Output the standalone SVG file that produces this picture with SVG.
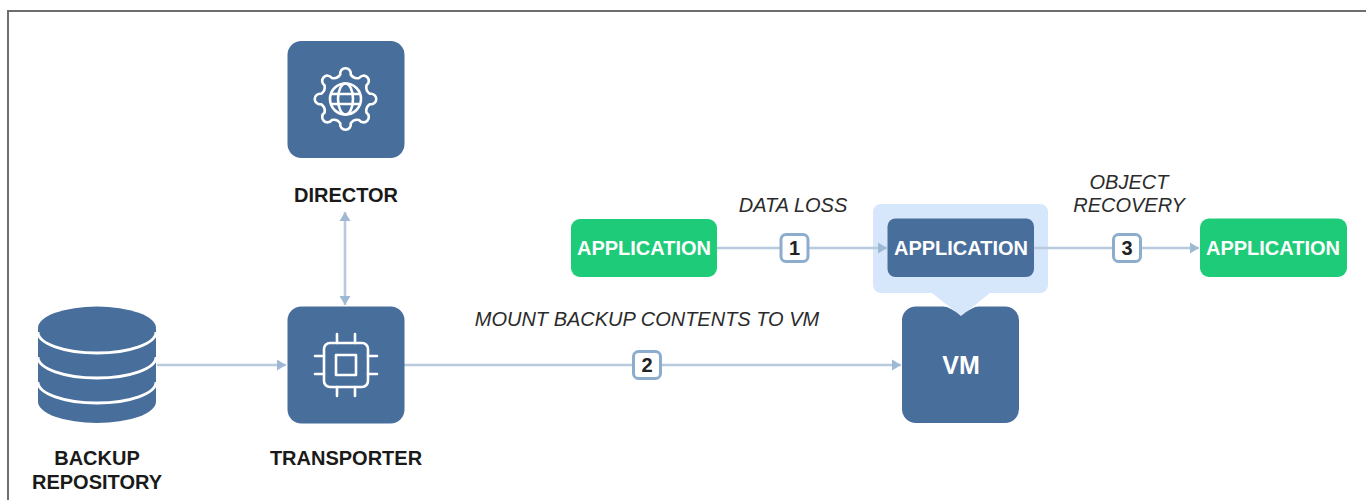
<svg xmlns="http://www.w3.org/2000/svg" width="1366" height="500" viewBox="0 0 1366 500">
<style>
text{font-family:"Liberation Sans",Arial,sans-serif}
.t{font-size:20px;font-weight:700;fill:#1a1a1a;text-anchor:middle}
.i{font-size:20px;font-style:italic;fill:#2b2b2b;text-anchor:middle}
.a{font-size:20px;font-weight:700;fill:#fff;text-anchor:middle}
.blue{fill:#486e9c}
.green{fill:#1ecb78}
.ic{fill:none;stroke:#fff;stroke-width:2.6;stroke-linecap:round;stroke-linejoin:round}
.c{fill:none;stroke:#b9cadf;stroke-width:2.6}
.b{fill:#fff;stroke:#8dadcf;stroke-width:3}
.n{font-size:20px;font-weight:700;fill:#222;text-anchor:middle}
</style>
<defs>
<marker id="ah" markerUnits="userSpaceOnUse" markerWidth="10" markerHeight="12" refX="9" refY="6" orient="auto-start-reverse"><path d="M0 .5L9 6L0 11.500Z" fill="#9fb8d4"/></marker>
</defs>
<path d="M8 500V11H1366" fill="none" stroke="#6e6e6e" stroke-width="2"/>
<g id="highlight"><path fill="#d6e6fb" d="M881 204H1040A8 8 0 0 1 1048 212V285A8 8 0 0 1 1040 293H990L961 316L932 293H881A8 8 0 0 1 873 285V212A8 8 0 0 1 881 204Z"/></g>
<g id="connectors">
<path class="c" d="M345 212V305" marker-start="url(#ah)" marker-end="url(#ah)"/>
<path class="c" d="M157 365H286" marker-end="url(#ah)"/>
<path class="c" d="M404 365H901" marker-end="url(#ah)"/>
<path class="c" d="M717 248H887" marker-end="url(#ah)"/>
<path class="c" d="M1034 248H1199" marker-end="url(#ah)"/>
</g>
<g id="director"><rect class="blue" x="287.500" y="41" width="117" height="117" rx="14"/>
<g transform="translate(345.500 99)"><path class="ic" d="M-5.200 -24.450A5.300 5.300 0 1 1 5.200 -24.450A8 8 0 0 0 13.620 -20.970A5.300 5.300 0 1 1 20.970 -13.620A8 8 0 0 0 24.450 -5.200A5.300 5.300 0 1 1 24.450 5.200A8 8 0 0 0 20.970 13.620A5.300 5.300 0 1 1 13.620 20.970A8 8 0 0 0 5.200 24.450A5.300 5.300 0 1 1 -5.200 24.450A8 8 0 0 0 -13.620 20.970A5.300 5.300 0 1 1 -20.970 13.620A8 8 0 0 0 -24.450 5.200A5.300 5.300 0 1 1 -24.450 -5.200A8 8 0 0 0 -20.970 -13.620A5.300 5.300 0 1 1 -13.620 -20.970A8 8 0 0 0 -5.200 -24.450Z"/>
<circle class="ic" r="15.500"/><ellipse class="ic" rx="7.500" ry="15.500"/><path class="ic" d="M-14 -5H14M-14 5H14"/></g>
<text class="t" x="346" y="202">DIRECTOR</text></g>
<g id="repository">
<path class="blue" d="M38 328A59 21.500 0 0 1 156 328V401.500A59 21.500 0 0 1 38 401.500Z"/>
<path d="M38 332A59 21 0 0 0 156 332M38 357A59 21 0 0 0 156 357M38 382A59 21 0 0 0 156 382" fill="none" stroke="#fff" stroke-width="2.800"/>
<text class="t" x="97" y="465">BACKUP</text><text class="t" x="97" y="489">REPOSITORY</text></g>
<g id="transporter"><rect class="blue" x="287.500" y="306.500" width="117" height="117" rx="14"/>
<rect class="ic" x="324" y="343" width="44" height="44" rx="6"/><rect class="ic" x="336" y="355" width="20" height="20"/>
<path class="ic" d="M337 334V343M355 334V343M337 387V396M355 387V396M315 356H324M315 374H324M368 356H377M368 374H377"/>
<text class="t" x="346" y="465">TRANSPORTER</text></g>
<g id="vm"><path class="blue" d="M916 306.500H943Q950 306.500 961 316Q972 306.500 979 306.500H1005A14 14 0 0 1 1019 320.500V409A14 14 0 0 1 1005 423H916A14 14 0 0 1 902 409V320.500A14 14 0 0 1 916 306.500Z"/>
<text x="961" y="374" text-anchor="middle" font-size="25" font-weight="700" fill="#fff">VM</text></g>
<g id="app1"><rect class="green" x="571" y="219" width="146" height="58" rx="9"/><text class="a" x="644" y="255">APPLICATION</text></g>
<g id="app2"><rect class="blue" x="887.500" y="218.500" width="146.500" height="58.500" rx="8"/><text class="a" x="961" y="255">APPLICATION</text></g>
<g id="app3"><rect class="green" x="1200" y="218.500" width="147" height="58.500" rx="9"/><text class="a" x="1273" y="255">APPLICATION</text></g>
<g id="labels">
<text class="i" x="793" y="212">DATA LOSS</text>
<text class="i" x="1129" y="189">OBJECT</text><text class="i" x="1129" y="212">RECOVERY</text>
<text class="i" x="647" y="326">MOUNT BACKUP CONTENTS TO VM</text>
</g>
<g id="badge1"><rect class="b" x="781" y="234.500" width="27" height="27" rx="5"/><text class="n" x="794.500" y="255">1</text></g>
<g id="badge2"><rect class="b" x="633.500" y="351.500" width="27" height="27" rx="5"/><text class="n" x="647" y="372">2</text></g>
<g id="badge3"><rect class="b" x="1113.500" y="234.500" width="27" height="27" rx="5"/><text class="n" x="1127" y="255">3</text></g>
</svg>
